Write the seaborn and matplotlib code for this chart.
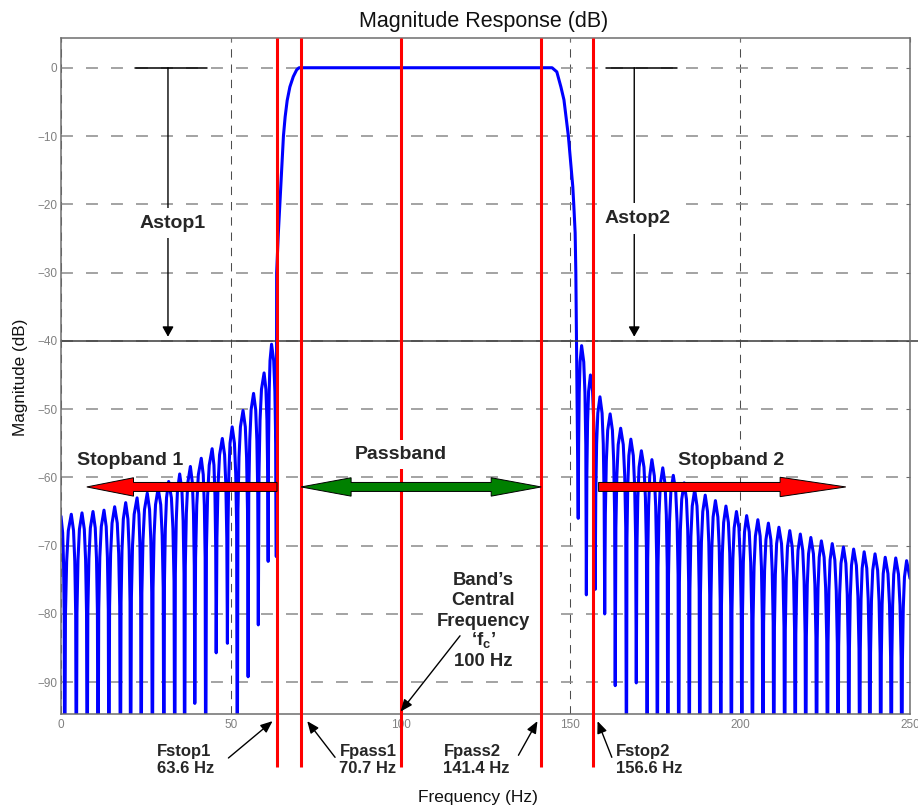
import matplotlib
matplotlib.use("Agg")
import matplotlib.pyplot as plt
from matplotlib.patches import Polygon, Rectangle
import numpy as np
import pandas as pd
import seaborn as sns

# ---------------- filter response data ----------------
# lower stopband: side-lobe peaks and the nulls that follow each of them
LEFT_PEAK_HZ = [0.0, 3.03, 6.18, 9.42, 12.66, 15.8, 19.05, 22.4, 25.4, 28.6, 31.7,
                34.95, 38.1, 41.3, 44.5, 47.5, 50.4, 53.6, 56.7, 59.8, 62.0]
LEFT_PEAK_DB = [-65.7, -65.4, -65.2, -65.0, -64.8, -64.3, -63.7, -63.0, -62.3, -61.6, -60.6,
                -59.5, -58.4, -57.2, -55.8, -54.3, -52.6, -50.2, -47.7, -44.7, -40.5]
LEFT_NULL_HZ = [1.08, 4.5, 7.7, 10.9, 14.1, 17.5, 20.5, 23.6, 26.9, 30.3, 33.5,
                36.4, 39.4, 42.6, 45.7, 49.0, 51.9, 55.1, 58.1, 61.0, 63.4]
LEFT_NULL_DB = [-110.0, -110.0, -110.0, -110.0, -110.0, -110.0, -110.0, -110.0, -110.0, -110.0, -110.0,
                -110.0, -93.1, -110.0, -85.7, -84.3, -110.0, -89.2, -81.6, -72.3, -71.6]

# transition bands and passband
RISE_HZ = [63.5, 64.0, 64.5, 65.0, 65.5, 66.0, 66.6, 67.4, 68.4, 69.4, 70.1]
RISE_DB = [-30.0, -24.2, -19.4, -14.5, -10.0, -7.2, -4.8, -2.8, -1.3, -0.3, 0.0]
FALL_HZ = [144.6, 146.0, 147.2, 148.1, 148.7, 149.4, 150.2, 150.7, 151.0, 151.4, 151.6, 151.8]
FALL_DB = [0.0, -0.6, -2.8, -4.7, -7.2, -10.0, -14.5, -17.4, -20.1, -24.2, -30.0, -40.0]

# upper stopband: the null before each side-lobe peak, and the peaks
RIGHT_NULL_HZ = [152.3, 154.7, 157.3, 160.1, 163.2, 166.5, 169.4, 172.6, 175.6, 178.7, 181.9,
                 185.0, 188.1, 191.2, 194.3, 197.4, 200.5, 203.6, 206.7, 209.9, 213.1, 216.2,
                 219.3, 222.5, 225.7, 228.8, 232.0, 235.2, 238.2, 241.4, 244.5, 247.6]
RIGHT_NULL_DB = [-66.0, -77.2, -76.4, -80.0, -90.5, -110.0, -90.1, -110.0, -110.0, -110.0, -110.0,
                 -110.0, -110.0, -110.0, -110.0, -110.0, -110.0, -110.0, -110.0, -110.0, -110.0, -110.0,
                 -110.0, -110.0, -110.0, -110.0, -110.0, -110.0, -110.0, -110.0, -110.0, -110.0]
RIGHT_PEAK_HZ = [153.3, 155.9, 158.7, 161.7, 164.8, 167.8, 170.9, 174.0, 177.2, 180.3, 183.5,
                 186.6, 189.7, 192.7, 195.8, 198.9, 201.9, 205.2, 208.3, 211.4, 214.6, 217.7,
                 220.8, 223.9, 227.1, 230.4, 233.4, 236.5, 239.7, 242.7, 245.8, 249.0]
RIGHT_PEAK_DB = [-40.7, -45.0, -48.2, -50.7, -52.8, -54.4, -56.1, -57.4, -58.6, -59.7, -60.8,
                 -61.8, -62.6, -63.4, -64.2, -65.0, -65.6, -66.2, -66.7, -67.3, -67.8, -68.3,
                 -68.8, -69.3, -69.7, -70.2, -70.5, -70.9, -71.2, -71.7, -71.8, -72.2]
EDGE_HZ = 250.0
EDGE_DB = -74.8

# band specification
F_STOP1 = 63.6
F_PASS1 = 70.7
F_CENTER = 100.0
F_PASS2 = 141.4
F_STOP2 = 156.6
A_STOP_DB = -40.0

X_TICKS = [0, 50, 100, 150, 200, 250]
Y_TICKS = [-90, -80, -70, -60, -50, -40, -30, -20, -10, 0]

# rounded shape of a side lobe between a peak and a null
SHOULDER_FROM_PEAK = [0.45, 0.70, 0.88]
SHOULDER_DROP_DB = [2.4, 6.9, 14.6]


def lobe_side(f_peak, d_peak, f_null, d_null):
    pts = []
    for k, drop in zip(SHOULDER_FROM_PEAK, SHOULDER_DROP_DB):
        pts.append((f_peak + (f_null - f_peak) * k, max(d_peak - drop, d_null)))
    return pts


def ripple_band(extremes):
    pts = []
    for (fa, da, ka), (fb, db, kb) in zip(extremes[:-1], extremes[1:]):
        pts.append((fa, da))
        if ka == "peak":
            pts += lobe_side(fa, da, fb, db)
        else:
            pts += lobe_side(fb, db, fa, da)[::-1]
    pts.append(extremes[-1][:2])
    return pts


left_ext = []
for fp, dp, fn, dn in zip(LEFT_PEAK_HZ, LEFT_PEAK_DB, LEFT_NULL_HZ, LEFT_NULL_DB):
    left_ext += [(fp, dp, "peak"), (fn, dn, "null")]
right_ext = []
for fn, dn, fp, dp in zip(RIGHT_NULL_HZ, RIGHT_NULL_DB, RIGHT_PEAK_HZ, RIGHT_PEAK_DB):
    right_ext += [(fn, dn, "null"), (fp, dp, "peak")]

curve = (ripple_band(left_ext) + list(zip(RISE_HZ, RISE_DB)) + list(zip(FALL_HZ, FALL_DB))
         + ripple_band(right_ext) + [(EDGE_HZ, EDGE_DB)])
df = pd.DataFrame(curve, columns=["freq", "mag"])

# ---------------- style ----------------
sns.set_theme(style="white")
plt.rcParams["font.family"] = ["Liberation Sans", "DejaVu Sans"]
plt.rcParams["mathtext.fontset"] = "custom"
plt.rcParams["mathtext.rm"] = "Liberation Sans"
plt.rcParams["mathtext.bf"] = "Liberation Sans:bold"
plt.rcParams["mathtext.it"] = "Liberation Sans:italic"
plt.rcParams["lines.scale_dashes"] = False
plt.rcParams["axes.unicode_minus"] = True

W, H = 918, 810
fig = plt.figure(figsize=(W / 100, H / 100), dpi=100)
ax = fig.add_axes([61 / W, 1 - 714.3 / H, 849 / W, (714.3 - 37.7) / H])

sns.lineplot(data=df, x="freq", y="mag", sort=False, estimator=None,
             color="#0000ff", linewidth=2.2, ax=ax, zorder=2)

YMIN, YMAX = -94.7, 4.4
ax.set_xlim(0, 250)
ax.set_ylim(YMIN, YMAX)
ax.set_xticks(X_TICKS)
ax.set_yticks(Y_TICKS)
ax.set_xlabel("")
ax.set_ylabel("")

ax.yaxis.grid(True, color="#8a8a8a", linewidth=1.1, linestyle=(0, (8.6, 9.4)))
ax.xaxis.grid(True, color="#4d4d4d", linewidth=0.75, linestyle=(0, (6.0, 5.0)))
for s in ax.spines.values():
    s.set_color("#6e6e6e")
    s.set_linewidth(1.1)
ax.tick_params(axis="both", direction="in", length=3, width=0.8, color="#6e6e6e",
               labelcolor="#808080", labelsize=8.5, top=True, right=True)
ax.tick_params(axis="y", pad=2.5)
ax.tick_params(axis="x", pad=3.5)

# stopband attenuation reference level
ax.plot([0, 252.5], [A_STOP_DB, A_STOP_DB], color="#3a3a3a", lw=1.1,
        clip_on=False, zorder=2.5)

# band edge and centre frequency markers
for f in [F_STOP1, F_PASS1, F_CENTER, F_PASS2, F_STOP2]:
    ax.plot([f, f], [YMAX, -102.4], color="#ff0000", lw=2.2, clip_on=False,
            zorder=3, solid_capstyle="butt")

# Astop dimension markers
small_head = "-|>,head_length=0.5,head_width=0.28"
for x_line, h0, h1, xt, yt, label in [(31.5, 21.8, 43.0, 33.0, -23.4, "Astop1"),
                                      (168.8, 160.4, 181.5, 169.7, -22.7, "Astop2")]:
    ax.plot([h0, h1], [0, 0], color="black", lw=1.1, zorder=2.6)
    ax.annotate("", xy=(x_line, A_STOP_DB + 0.6), xytext=(x_line, 0),
                arrowprops=dict(arrowstyle=small_head, color="black", lw=1.0,
                                mutation_scale=12, shrinkA=0, shrinkB=0), zorder=2.6)
    ax.text(xt, yt, label, ha="center", va="baseline", fontsize=14, fontweight="bold",
            zorder=4, bbox=dict(boxstyle="square,pad=0.35", fc="white", ec="none"))


# block arrows for the bands
def block_arrow(x_tail, x_tip, y, head_len, head_half, body_half, color, double=False):
    T = ax.transData
    xa, yc = T.transform((x_tail, y))
    xb, _ = T.transform((x_tip, y))
    d = np.sign(xb - xa)
    base_b = xb - d * head_len
    if double:
        base_a = xa + d * head_len
        verts = [(xa, yc), (base_a, yc + head_half), (base_a, yc + body_half),
                 (base_b, yc + body_half), (base_b, yc + head_half), (xb, yc),
                 (base_b, yc - head_half), (base_b, yc - body_half),
                 (base_a, yc - body_half), (base_a, yc - head_half)]
    else:
        verts = [(xa, yc + body_half), (base_b, yc + body_half), (base_b, yc + head_half),
                 (xb, yc), (base_b, yc - head_half), (base_b, yc - body_half),
                 (xa, yc - body_half)]
    ax.add_patch(Polygon(T.inverted().transform(verts), closed=True, fc=color,
                         ec="black", lw=0.7, zorder=4, clip_on=False))


ARROW_Y = -61.4
block_arrow(F_STOP1, 7.6, ARROW_Y, 46.7, 9.2, 4.5, "#ff0000")
block_arrow(F_PASS1, F_PASS2, ARROW_Y, 50.0, 9.2, 4.5, "#008000", double=True)
block_arrow(F_STOP2 + 1.7, 231.1, ARROW_Y, 65.7, 9.7, 4.5, "#ff0000")

ax.text(20.3, -58.2, "Stopband 1", ha="center", va="baseline", fontsize=14,
        fontweight="bold", zorder=5)
ax.text(197.4, -58.2, "Stopband 2", ha="center", va="baseline", fontsize=14,
        fontweight="bold", zorder=5,
        bbox=dict(boxstyle="square,pad=0.1", fc="white", ec="none"))
ax.text(F_CENTER, -57.3, "Passband", ha="center", va="baseline", fontsize=14,
        fontweight="bold", zorder=5,
        bbox=dict(boxstyle="square,pad=0.33", fc="white", ec="none"))

# centre frequency note
ax.add_patch(Rectangle((108.1, -88.2), 35.3, 15.4, fc="white", ec="none", zorder=1))
centre_lines = ["Band\u2019s", "Central", "Frequency",
                r"‘$\mathbf{f}_\mathbf{c}$’", f"{F_CENTER:.0f} Hz"]
for txt, yb in zip(centre_lines, [-75.74, -78.74, -81.74, -84.60, -87.60]):
    ax.text(124.3, yb, txt, ha="center", va="baseline", fontsize=13.3,
            fontweight="bold", zorder=4)
ax.annotate("", xy=(F_CENTER, -94.3), xytext=(117.5, -83.2),
            arrowprops=dict(arrowstyle="-|>,head_length=0.6,head_width=0.25",
                            color="black", lw=1.0, mutation_scale=12,
                            shrinkA=0, shrinkB=0), zorder=4)

# band edge labels below the axis
edge_notes = [("Fstop1", F_STOP1, 28.2, F_STOP1 - 1.3, (49.3, -101.1)),
              ("Fpass1", F_PASS1, 82.0, F_PASS1 + 1.8, (80.7, -101.0)),
              ("Fpass2", F_PASS2, 112.6, F_PASS2 - 1.1, (134.7, -100.7)),
              ("Fstop2", F_STOP2, 163.3, F_STOP2 + 1.4, (162.2, -101.0))]
for name, value, x_left, tip_x, tail in edge_notes:
    ax.text(x_left, -100.8, name, ha="left", va="baseline", fontsize=12,
            fontweight="bold", clip_on=False)
    ax.text(x_left, -103.3, f"{value:.1f} Hz", ha="left", va="baseline", fontsize=12,
            fontweight="bold", clip_on=False)
    ax.annotate("", xy=(tip_x, -95.7), xytext=tail, annotation_clip=False,
                arrowprops=dict(arrowstyle="-|>,head_length=0.6,head_width=0.25",
                                color="black", lw=1.0, mutation_scale=12,
                                shrinkA=0, shrinkB=0))

# titles
fig.text(483.3 / W, 1 - 26.7 / H, "Magnitude Response (dB)", ha="center",
         va="baseline", fontsize=15.5, color="#111111")
fig.text(477.5 / W, 1 - 802 / H, "Frequency (Hz)", ha="center", va="baseline",
         fontsize=12.5, color="#111111")
fig.text(21 / W, 1 - 377 / H, "Magnitude (dB)", rotation=90, ha="center",
         va="center", fontsize=12.3, color="#111111")

fig.savefig("out.png", dpi=100)
